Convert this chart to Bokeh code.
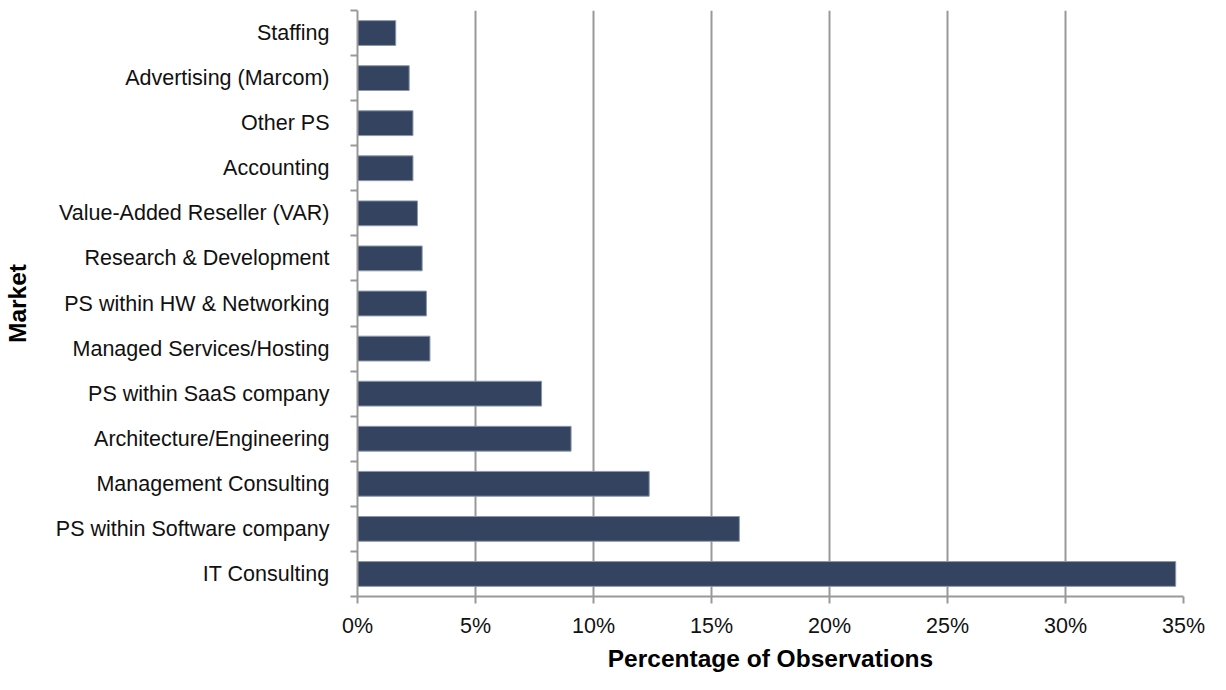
from bokeh.plotting import figure
from bokeh.models import (ColumnDataSource, Range1d, LinearAxis,
                          FixedTicker, NumeralTickFormatter)
from bokeh.embed import file_html
from bokeh.resources import INLINE

# Data (top to bottom as in the chart)
markets = ["Staffing", "Advertising (Marcom)", "Other PS", "Accounting",
           "Value-Added Reseller (VAR)", "Research & Development",
           "PS within HW & Networking", "Managed Services/Hosting",
           "PS within SaaS company", "Architecture/Engineering",
           "Management Consulting", "PS within Software company", "IT Consulting"]
shares = [0.0162, 0.0219, 0.0235, 0.0235, 0.0254, 0.0274, 0.0292, 0.0307,
          0.0780, 0.0905, 0.1236, 0.1618, 0.3467]
x_ticks = [0, 0.05, 0.10, 0.15, 0.20, 0.25, 0.30, 0.35]

FONT = "Liberation Sans"
BAR = "#334360"
GRID = "#999999"

n = len(markets)
pos = [n - 1 - i for i in range(n)]  # first market at top
src = ColumnDataSource(dict(market=markets, share=shares, pos=pos))

p = figure(width=1210, height=674, output_backend="svg", toolbar_location=None,
           y_range=Range1d(-0.5, n - 0.5), x_range=Range1d(0, 0.35),
           y_axis_location=None, x_axis_location="below",
           min_border_left=340, min_border_right=27, min_border_top=10, min_border_bottom=70)
p.outline_line_color = None
p.background_fill_color = "white"
p.border_fill_color = "white"

p.hbar(y="pos", right="share", left=0, height=0.55, source=src,
       fill_color=BAR, line_color="#8a96ab", line_width=1)

# Inner y axis: tick marks between categories
bounds = [i - 0.5 for i in range(n + 1)]
tick_axis = LinearAxis(ticker=FixedTicker(ticks=bounds, minor_ticks=[]),
                       major_label_text_font_size="0px", major_label_standoff=0,
                       major_tick_in=0, major_tick_out=7,
                       major_tick_line_color=GRID, major_tick_line_width=2,
                       minor_tick_line_color=None,
                       axis_line_color=GRID, axis_line_width=2)
tick_axis.major_label_overrides = {b: "" for b in bounds}
p.add_layout(tick_axis, "left")

cat_axis = LinearAxis(ticker=FixedTicker(ticks=pos, minor_ticks=[]),
                      axis_line_color=None, major_tick_line_color=None,
                      minor_tick_line_color=None,
                      major_label_standoff=15,
                      major_label_text_font=FONT, major_label_text_font_size="21.5px",
                      major_label_text_color="#111111",
                      axis_label="Market", axis_label_text_font=FONT,
                      axis_label_text_font_size="24.5px", axis_label_text_font_style="bold",
                      axis_label_text_color="#000000", axis_label_standoff=22)
cat_axis.major_label_overrides = {pp: m for pp, m in zip(pos, markets)}
p.add_layout(cat_axis, "left")

xa = p.xaxis[0]
xa.ticker = FixedTicker(ticks=x_ticks, minor_ticks=[])
xa.formatter = NumeralTickFormatter(format="0%")
xa.axis_line_color = GRID
xa.axis_line_width = 2
xa.major_tick_line_color = GRID
xa.major_tick_line_width = 2
xa.major_tick_in = 0
xa.major_tick_out = 7
xa.minor_tick_line_color = None
xa.major_label_standoff = 10
xa.major_label_text_font = FONT
xa.major_label_text_font_size = "21.5px"
xa.major_label_text_color = "#111111"
xa.axis_label = "Percentage of Observations"
xa.axis_label_text_font = FONT
xa.axis_label_text_font_size = "24.5px"
xa.axis_label_text_font_style = "bold"
xa.axis_label_text_color = "#000000"
xa.axis_label_standoff = 4

p.xgrid.ticker = FixedTicker(ticks=x_ticks)
p.xgrid.grid_line_color = GRID
p.xgrid.grid_line_width = 2
p.ygrid.grid_line_color = None

open("out.html", "w").write(file_html(p, INLINE))
